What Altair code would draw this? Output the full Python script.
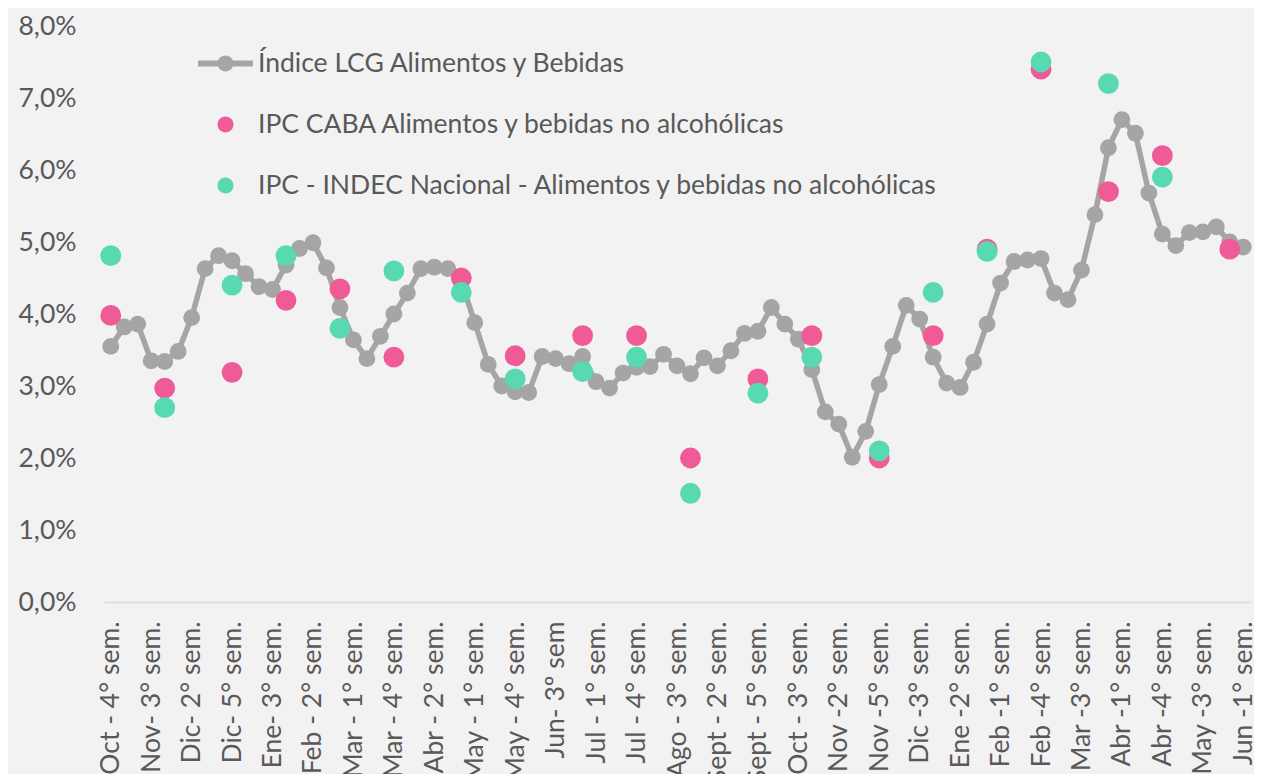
import altair as alt
import pandas as pd

# ---- data (values in %) ----
lcg_values = [
    3.55, 3.82, 3.86, 3.35, 3.34, 3.48, 3.95, 4.63, 4.81, 4.74,
    4.56, 4.38, 4.34, 4.68, 4.91, 4.99, 4.64, 4.09, 3.64, 3.38,
    3.69, 4.00, 4.29, 4.63, 4.65, 4.63, 4.45, 3.88, 3.30, 3.00,
    2.92, 2.91, 3.41, 3.38, 3.31, 3.41, 3.06, 2.97, 3.18, 3.26,
    3.27, 3.44, 3.28, 3.17, 3.39, 3.28, 3.49, 3.73, 3.76, 4.09,
    3.86, 3.65, 3.23, 2.64, 2.47, 2.01, 2.37, 3.02, 3.55, 4.12,
    3.93, 3.40, 3.04, 2.98, 3.33, 3.86, 4.43, 4.73, 4.75, 4.77,
    4.29, 4.20, 4.61, 5.38, 6.31, 6.70, 6.51, 5.68, 5.11, 4.95,
    5.13, 5.14, 5.21, 5.00, 4.93,
]

caba_weeks = [0, 4, 9, 13, 17, 21, 26, 30, 35, 39, 43, 48, 52, 57, 61, 65, 69, 74, 78, 83]
caba_values = [3.98, 2.97, 3.19, 4.19, 4.35, 3.40, 4.50, 3.42, 3.70, 3.70,
               2.00, 3.10, 3.70, 2.00, 3.70, 4.90, 7.40, 5.70, 6.20, 4.90]

indec_weeks = [0, 4, 9, 13, 17, 21, 26, 30, 35, 39, 43, 48, 52, 57, 61, 65, 69, 74, 78]
indec_values = [4.81, 2.70, 4.40, 4.81, 3.80, 4.60, 4.30, 3.10, 3.20, 3.40,
                1.51, 2.90, 3.40, 2.10, 4.30, 4.87, 7.50, 7.20, 5.90]

tick_labels = [
    "Oct - 4° sem.", "Nov- 3° sem.", "Dic- 2° sem.", "Dic- 5° sem.", "Ene- 3° sem.",
    "Feb - 2° sem.", "Mar - 1° sem.", "Mar - 4° sem.", "Abr - 2° sem.", "May - 1° sem.",
    "May - 4° sem.", "Jun- 3º sem", "Jul - 1° sem.", "Jul - 4° sem.", "Ago - 3° sem.",
    "Sept - 2° sem.", "Sept - 5° sem.", "Oct - 3° sem.", "Nov -2° sem.", "Nov -5° sem.",
    "Dic -3° sem.", "Ene -2° sem.", "Feb -1° sem.", "Feb -4° sem.", "Mar -3° sem.",
    "Abr -1° sem.", "Abr -4° sem.", "May -3° sem.", "Jun -1° sem.",
]

series_names = [
    "Índice LCG Alimentos y Bebidas",
    "IPC CABA Alimentos y bebidas no alcohólicas",
    "IPC - INDEC Nacional - Alimentos y bebidas no alcohólicas",
]
series_colors = ["#A5A5A5", "#F05A96", "#59D9B2"]

FONT = "Lato"
FS = 26.5
TXT = "#595959"

weekly = pd.DataFrame({"week": list(range(len(lcg_values))), "value": lcg_values})
caba = pd.DataFrame({"week": caba_weeks, "value": caba_values})
indec = pd.DataFrame({"week": indec_weeks, "value": indec_values})
legend_df = pd.DataFrame({"series": series_names})

label_array = "[" + ",".join("'" + t + "'" for t in tick_labels) + "]"

x_enc = alt.X(
    "week:Q",
    scale=alt.Scale(domain=[-0.5, len(lcg_values) - 0.5], nice=False, zero=False),
    axis=alt.Axis(
        values=list(range(0, len(lcg_values), 3)),
        labelExpr=label_array + "[round(datum.value / 3)]",
        labelAngle=270,
        labelAlign="right",
        labelBaseline="middle",
        labelPadding=19,
        labelFontSize=FS,
        labelFont=FONT,
        labelColor=TXT,
        ticks=False,
        grid=False,
        domainColor="#D9D9D9",
        domainWidth=1.5,
        title=None,
        labelOverlap=False,
        labelBound=False,
        labelFlush=False,
    ),
)
y_enc = alt.Y(
    "value:Q",
    scale=alt.Scale(domain=[0, 8], nice=False),
    axis=alt.Axis(
        values=list(range(0, 9)),
        labelExpr="replace(format(datum.value, '.1f'), '.', ',') + '%'",
        labelPadding=28,
        labelFontSize=FS,
        labelFont=FONT,
        labelColor=TXT,
        ticks=False,
        grid=False,
        domain=False,
        title=None,
    ),
)

line = alt.Chart(weekly).mark_line(color=series_colors[0], strokeWidth=5.5).encode(x=x_enc, y=y_enc)
line_pts = alt.Chart(weekly).mark_circle(color=series_colors[0], size=283, opacity=1).encode(x=x_enc, y=y_enc)
caba_pts = alt.Chart(caba).mark_circle(color=series_colors[1], size=434, opacity=1).encode(x=x_enc, y=y_enc)
indec_pts = alt.Chart(indec).mark_circle(color=series_colors[2], size=434, opacity=1).encode(x=x_enc, y=y_enc)

line_symbol = ("M-1,-0.11 L1,-0.11 L1,0.11 L-1,0.11 Z "
               "M-0.29,0 A0.29,0.29 0 1,1 0.29,0 A0.29,0.29 0 1,1 -0.29,0 Z")
dot_symbol = "M-0.29,0 A0.29,0.29 0 1,1 0.29,0 A0.29,0.29 0 1,1 -0.29,0 Z"


def make_legend():
    return alt.Legend(
        title=None,
        orient="none",
        legendX=94,
        legendY=10,
        labelFont=FONT,
        labelFontSize=FS,
        labelColor=TXT,
        labelLimit=1000,
        labelOffset=5,
        symbolSize=3025,
        symbolStrokeWidth=0,
        rowPadding=20,
        padding=0,
    )


legend_layer = alt.Chart(legend_df).transform_filter("false").mark_point(filled=True, opacity=1).encode(
    color=alt.Color(
        "series:N",
        scale=alt.Scale(domain=series_names, range=series_colors),
        legend=make_legend(),
    ),
    shape=alt.Shape(
        "series:N",
        scale=alt.Scale(domain=series_names, range=[line_symbol, dot_symbol, dot_symbol]),
        legend=make_legend(),
    ),
)

chart = alt.layer(line, line_pts, caba_pts, indec_pts, legend_layer).properties(
    width=1146,
    height=576,
    autosize=alt.AutoSizeParams(type="none"),
    padding={"left": 96, "top": 18, "right": 4, "bottom": 200},
    background="#F2F2F2",
).configure_view(stroke=None)

chart.save("out.html", embed_options={"renderer": "svg", "actions": False})
